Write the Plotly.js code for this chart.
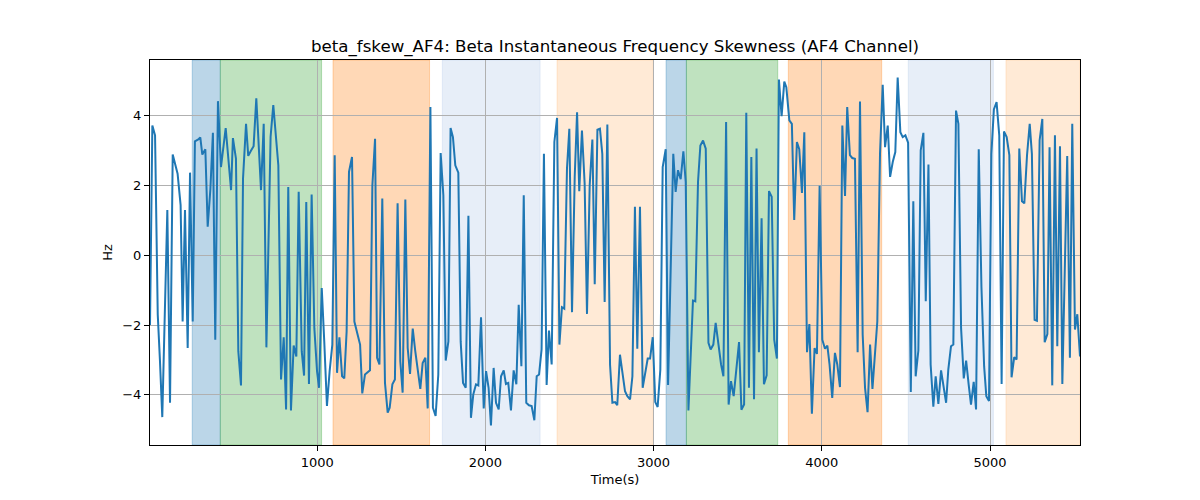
<!DOCTYPE html>
<html>
<head>
<meta charset="utf-8">
<script src="https://cdn.plot.ly/plotly-3.0.1.min.js"></script>
<style>
  body { margin: 0; background: #fff; }
  #chart { width: 1200px; height: 500px; }
</style>
</head>
<body>
<div id="chart"></div>
<script>
// time (s) and skewness (Hz)
var tiempos = [6, 20, 36, 52, 65, 79, 109, 125, 141, 170, 188, 200, 214, 230, 244, 260, 273, 293, 305, 317, 335, 349, 365, 380, 394, 410, 428, 456, 488, 499, 517, 531, 547, 559, 577, 590, 606, 622, 638, 666, 682, 698,
  723, 739, 769, 785, 801, 815, 828, 844, 860, 876, 890, 908, 922, 935, 951, 967, 983, 999, 1011, 1027, 1042, 1058, 1074, 1090, 1104, 1118, 1132, 1148, 1161, 1175, 1189, 1207, 1221, 1237, 1255, 1268, 1284, 1314, 1328, 1344, 1356, 1370, 1387, 1403, 1419,
  1431, 1447, 1462, 1478, 1494, 1508, 1524, 1538, 1552, 1568, 1583, 1599, 1613, 1627, 1643, 1657, 1673, 1688, 1704, 1720, 1734, 1750, 1764, 1780, 1793, 1807, 1821, 1839, 1853, 1867, 1883, 1899, 1914, 1928, 1944, 1958, 1974, 1990, 2004, 2019, 2033, 2049, 2063, 2079, 2093, 2109, 2122, 2136,
  2152, 2168, 2184, 2198, 2214, 2228, 2243, 2259, 2275, 2291, 2305, 2319, 2334, 2348, 2364, 2378, 2394, 2410, 2426, 2440, 2455, 2469, 2485, 2499, 2515, 2531, 2545, 2558, 2574, 2590, 2604, 2620, 2636, 2650, 2666, 2681, 2695, 2709, 2725, 2741, 2755, 2771, 2784, 2800, 2814, 2830,
  2844, 2860, 2874, 2889, 2903, 2919, 2935, 2949, 2965, 2979, 2995, 3010, 3024, 3040, 3054, 3072, 3086, 3117, 3131, 3145, 3161, 3177, 3191, 3207, 3220, 3234, 3248, 3264, 3278, 3294, 3310, 3326, 3339, 3355, 3369, 3385, 3401, 3415, 3431, 3446, 3460, 3476, 3492, 3508, 3522, 3538, 3551,
  3567, 3581, 3597, 3612, 3626, 3642, 3656, 3672, 3686, 3702, 3717, 3733, 3745, 3761, 3777, 3789, 3807, 3822, 3836, 3852, 3866, 3882, 3896, 3912, 3926, 3941, 3957, 3971, 3987, 4003, 4019, 4033, 4046, 4062, 4078, 4092, 4108, 4122, 4138, 4151, 4167, 4181, 4197, 4213, 4227, 4243, 4257, 4272,
  4287, 4301, 4316, 4330, 4346, 4362, 4376, 4392, 4406, 4422, 4437, 4451, 4467, 4481, 4497, 4513, 4529, 4544, 4558, 4574, 4588, 4604, 4618, 4634, 4647, 4663, 4677, 4693, 4709, 4723, 4739, 4752, 4768, 4782, 4798, 4812, 4828, 4844, 4858, 4873, 4887, 4903, 4917, 4933, 4949, 4965, 4978, 4994,
  5008, 5023, 5039, 5055, 5069, 5083, 5099, 5115, 5128, 5144, 5158, 5174, 5190, 5204, 5220, 5236, 5249, 5265, 5279, 5295, 5311, 5325, 5341, 5354, 5370, 5386, 5400, 5416, 5430, 5459, 5475, 5489, 5505, 5519, 5535];

var valores = [-2.0, 3.72, 3.44, -1.7, -3.0, -4.64, 1.3, -4.23, 2.89, 2.34, 1.44, -1.9, 1.3, -2.66, 2.37, -1.9, 3.27, 3.32, 3.38, 2.89, 3.04, 0.82, 1.9, 3.51, -2.42, 4.42, 2.53, 3.65, 1.87, 3.36, 2.77, -2.75, -3.73, 2.2, 3.77, 2.85, 3.0, 3.13, 4.5, 1.87, 3.77, -2.64,
  3.4, 4.31, 2.58, -3.56, -2.35, -4.42, 1.96, -4.45, -2.59, -2.9, 1.82, -2.75, -3.45, 1.53, -3.69, 1.74, -2.09, -3.32, -3.8, -0.94, -2.47, -4.32, -3.32, -2.56, 2.87, -3.37, -2.35, -3.47, -3.53, -2.18, 2.39, 2.82, -1.9, -2.18, -2.56, -3.96, -3.42, -3.3, 2.0, 3.34, -2.94, -3.13, 1.63, -3.66, -4.51,
  -4.37, -3.7, -3.56, 1.49, -3.04, -3.94, 1.6, -2.66, -3.4, -2.1, -2.75, -3.32, -3.83, -3.09, -2.94, -4.39, 4.25, -4.37, -4.61, -3.42, 2.93, 1.72, -3.02, -2.47, 3.65, 3.39, 2.58, 2.37, -2.47, -3.66, -3.8, 1.13, -4.66, -3.99, -3.7, -3.73, -1.78, -4.39, -3.32, -3.8, -4.88, -3.23, -4.23, -4.42, -3.47, -3.3, -3.69, -3.66,
  -4.45, -3.3, -3.7, -1.42, -3.18, 1.72, -4.23, -4.3, -4.32, -4.73, -3.47, -3.42, -2.7, 2.91, -3.72, -2.16, -3.13, 3.25, 3.94, -2.56, -1.49, -1.53, 2.49, 3.63, -1.63, 2.25, 4.1, 1.84, 3.58, 2.06, -1.68, 2.01, 3.32, -0.83, 3.6, 3.63, 2.91, -1.34, 3.75, -3.13, -4.23, -4.21, -4.3, -2.85, -3.42, -3.9,
  -4.04, -4.13, -3.47, 1.39, -2.68, 1.39, -3.8, -3.42, -2.96, -2.96, -2.35, -4.21, -4.35, -3.28, 2.53, 3.04, -3.72, 2.91, 1.82, 2.44, 2.18, 2.98, 2.1, -4.45, -2.9, -1.3, -1.32, 2.1, 3.15, 3.29, 3.06, -2.51, -2.7, -2.56, -1.94, -2.61, -3.13, -3.47, 3.82, -4.28, -3.61, -4.04, -3.18, -2.49, -4.43, -4.28, 4.09,
  -3.8, 2.82, -4.13, 3.06, -2.78, 1.06, -3.7, -3.44, 1.84, 1.68, -2.42, -2.96, 5.04, 3.99, 4.98, 4.82, 3.87, 3.77, 1.01, 3.25, 3.04, 1.79, 3.53, -2.78, -1.97, -4.54, -2.66, -2.83, 1.99, -2.42, -2.68, -2.59, -3.13, -4.09, -2.8, -3.13, -3.78, 3.72, 1.7, 4.25, 2.87, 2.79, 2.77, -2.78, 4.41, -2.28, -3.8, -4.5,
  -2.56, -3.83, -2.96, -1.9, 2.91, 4.89, 3.1, 3.72, 2.25, 2.68, 2.96, 5.1, 3.53, 3.39, 3.44, 3.23, -3.92, 1.55, -3.47, -2.73, 3.01, 3.51, -1.32, 2.6, -3.13, -4.34, -3.47, -4.26, -3.3, -3.7, -4.23, -3.28, -2.61, -2.56, 4.15, 3.77, -2.09, -3.53, -3.02, -3.7, -4.28, -3.63, -4.42, 3.04, -0.9, -3.18, -4.04, -4.18,
  2.9, 4.18, 4.39, 3.44, -3.69, 3.55, 3.39, 2.87, -3.5, -2.92, -2.99, 3.06, 1.55, 1.49, 2.87, 3.77, 2.91, -1.85, -1.88, 3.3, 3.91, -2.49, -2.26, 3.1, -3.73, 3.44, -2.61, 3.13, -3.69, 2.85, -2.94, 3.77, -2.13, -1.69, -2.9];

// shaded segments (start, end, colour)
var tramoInicio = [257, 424, 1094, 1744, 2426, 3074, 3195, 3801, 4514, 5095];
var tramoFin = [424, 1026, 1668, 2325, 2998, 3195, 3738, 4356, 5020, 5535];
var tramoColor = [
  'rgba(31,119,180,0.3)', 'rgba(44,160,44,0.3)', 'rgba(255,127,14,0.3)',
  'rgba(174,199,232,0.3)', 'rgba(255,187,120,0.3)',
  'rgba(31,119,180,0.3)', 'rgba(44,160,44,0.3)', 'rgba(255,127,14,0.3)',
  'rgba(174,199,232,0.3)', 'rgba(255,187,120,0.3)'
];

var formas = [];
for (var i = 0; i < tramoInicio.length; i++) {
  formas.push({
    type: 'rect', xref: 'x', yref: 'paper',
    x0: tramoInicio[i], x1: tramoFin[i], y0: 0, y1: 1,
    fillcolor: tramoColor[i],
    line: {width: 1, color: tramoColor[i]},
    layer: 'below'
  });
}

var trace1 = {
  type: 'scatter',
  mode: 'lines',
  x: tiempos,
  y: valores,
  line: {color: '#1f77b4', width: 2},
  hoverinfo: 'x+y'
};

var ejeComun = {
  showline: true, mirror: true, linecolor: '#000', linewidth: 1,
  ticks: 'outside', ticklen: 5, tickcolor: '#000',
  showgrid: true, gridcolor: '#b0b0b0', gridwidth: 1,
  zeroline: false,
  tickfont: {family: 'DejaVu Sans', size: 13, color: '#000'}
};

var layout = {
  width: 1200, height: 500,
  margin: {l: 150, r: 120, t: 60, b: 55},
  paper_bgcolor: '#fff', plot_bgcolor: '#fff',
  showlegend: false,
  font: {family: 'DejaVu Sans', color: '#000'},
  title: {
    text: 'beta_fskew_AF4: Beta Instantaneous Frequency Skewness (AF4 Channel)',
    font: {family: 'DejaVu Sans', size: 16.67, color: '#000'},
    x: 0.5, xref: 'paper', xanchor: 'center',
    y: 0.908, yanchor: 'middle'
  },
  xaxis: Object.assign({}, ejeComun, {
    range: [tiempos[0], tiempos[tiempos.length - 1]],
    tickvals: [1000, 2000, 3000, 4000, 5000],
    title: {text: 'Time(s)', font: {family: 'DejaVu Sans', size: 13, color: '#000'}, standoff: 6}
  }),
  yaxis: Object.assign({}, ejeComun, {
    range: [-5.44, 5.6],
    tickvals: [-4, -2, 0, 2, 4],
    title: {text: 'Hz', font: {family: 'DejaVu Sans', size: 13, color: '#000'}, standoff: 6}
  }),
  shapes: formas
};

Plotly.newPlot('chart', [trace1], layout, {displayModeBar: false, staticPlot: true});
</script>
</body>
</html>
